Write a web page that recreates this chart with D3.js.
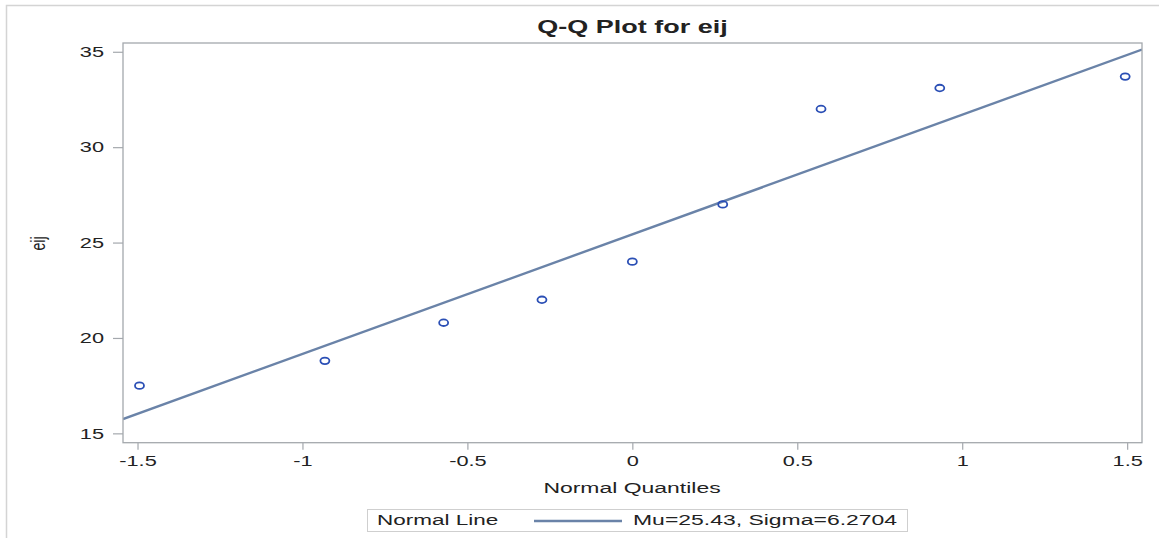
<!DOCTYPE html>
<html>
<head>
<meta charset="utf-8">
<script src="https://cdn.jsdelivr.net/npm/d3@7"></script>
<style>
  html, body { margin: 0; padding: 0; background: #fff; }
  svg { display: block; }
  text { font-family: "Liberation Sans", Arial, sans-serif; fill: #222; }
</style>
</head>
<body>
<svg id="chart" width="1159" height="538"></svg>
<script>
// ---- data ----
const quantiles = [-1.494, -0.932, -0.572, -0.274, 0, 0.274, 0.572, 0.932, 1.494];
const eij = [17.5, 18.8, 20.8, 22, 24, 27, 32, 33.1, 33.7];
const mu = 25.43;
const sigma = 6.2704;
const xTicks = [-1.5, -1, -0.5, 0, 0.5, 1, 1.5];
const xTickLabels = ["-1.5", "-1", "-0.5", "0", "0.5", "1", "1.5"];
const yTicks = [15, 20, 25, 30, 35];
const yTickLabels = ["15", "20", "25", "30", "35"];
const titleText = "Q-Q Plot for eij";
const xLabel = "Normal Quantiles";
const yLabel = "eij";
const legendLabel = "Normal Line";
const legendValue = "Mu=25.43, Sigma=6.2704";

// ---- layout ----
const SX = 1.5; // horizontal stretch of the reference rendering
const svg = d3.select("#chart");
const plot = { left: 123, right: 1142, top: 43, bottom: 442.7 };

const x = d3.scaleLinear().domain([-1.544, 1.545]).range([plot.left, plot.right]);
const y = d3.scaleLinear().domain([14.51, 35.46]).range([plot.bottom, plot.top]);

const lineColor = "#6a83a8";
const markerColor = "#2b4fb5";
const frameColor = "#a4a8ad";

// outer border
svg.append("path")
  .attr("d", "M6.5,538 L6.5,5.5 L1159,5.5")
  .attr("fill", "none").attr("stroke", "#d4d4d4").attr("stroke-width", 1.5);

function stretchedText(px, py, str, opts) {
  const g = svg.append("g").attr("transform", `translate(${px},${py}) scale(${SX},1)`);
  const t = g.append("text").text(str)
    .attr("text-anchor", opts.anchor || "start")
    .attr("font-size", opts.size || 14)
    .attr("font-weight", opts.weight || "normal");
  if (opts.rotate) t.attr("transform", `rotate(${opts.rotate})`);
  return t;
}

// clip for the fit line
svg.append("clipPath").attr("id", "clip")
  .append("rect").attr("x", plot.left).attr("y", plot.top)
  .attr("width", plot.right - plot.left).attr("height", plot.bottom - plot.top);

// normal line
const xd = x.domain();
svg.append("line")
  .attr("clip-path", "url(#clip)")
  .attr("x1", x(xd[0])).attr("y1", y(mu + sigma * xd[0]))
  .attr("x2", x(xd[1])).attr("y2", y(mu + sigma * xd[1]))
  .attr("stroke", lineColor).attr("stroke-width", 2.4);

// markers
svg.append("g").selectAll("ellipse")
  .data(quantiles.map((q, i) => ({ q, v: eij[i] })))
  .join("ellipse")
  .attr("cx", d => x(d.q)).attr("cy", d => y(d.v))
  .attr("rx", 4.5).attr("ry", 3.3)
  .attr("fill", "none").attr("stroke", markerColor).attr("stroke-width", 1.8);

// frame
svg.append("rect")
  .attr("x", plot.left).attr("y", plot.top)
  .attr("width", plot.right - plot.left).attr("height", plot.bottom - plot.top)
  .attr("fill", "none").attr("stroke", frameColor).attr("stroke-width", 1.3);

// y axis
const yAxis = d3.axisLeft(y).tickValues(yTicks)
  .tickFormat((d, i) => yTickLabels[i]).tickSize(10).tickPadding(9);
const gy = svg.append("g").attr("transform", `translate(${plot.left},0)`).call(yAxis);
gy.select(".domain").remove();
gy.selectAll(".tick line").attr("stroke", frameColor).attr("stroke-width", 1.2);
gy.selectAll(".tick text")
  .attr("x", -19 / SX).attr("dy", "0.33em")
  .attr("transform", `scale(${SX},1)`)
  .attr("font-size", 14.5).attr("font-family", "Liberation Sans, Arial, sans-serif").attr("fill", "#222");

// x axis
const xAxis = d3.axisBottom(x).tickValues(xTicks)
  .tickFormat((d, i) => xTickLabels[i]).tickSize(7).tickPadding(6);
const gx = svg.append("g").attr("transform", `translate(0,${plot.bottom})`).call(xAxis);
gx.select(".domain").remove();
gx.selectAll(".tick line").attr("stroke", frameColor).attr("stroke-width", 1.2);
gx.selectAll(".tick text")
  .attr("transform", `scale(${SX},1)`)
  .attr("font-size", 14.5).attr("font-family", "Liberation Sans, Arial, sans-serif").attr("fill", "#222");

// title and axis labels
stretchedText((plot.left + plot.right) / 2, 33, titleText, { anchor: "middle", size: 18, weight: "bold" });
stretchedText(632, 492.5, xLabel, { anchor: "middle", size: 15.3 });
stretchedText(45, 243.5, yLabel, { anchor: "middle", size: 14, rotate: -90 });

// legend
svg.append("rect")
  .attr("x", 367.5).attr("y", 509.5).attr("width", 540).attr("height", 22)
  .attr("fill", "#fff").attr("stroke", "#cfcfcf").attr("stroke-width", 1);
stretchedText(377, 525, legendLabel, { size: 15 });
svg.append("line")
  .attr("x1", 534).attr("x2", 622).attr("y1", 521).attr("y2", 521)
  .attr("stroke", lineColor).attr("stroke-width", 2.4);
stretchedText(633, 525, legendValue, { size: 15.3 });
</script>
</body>
</html>
